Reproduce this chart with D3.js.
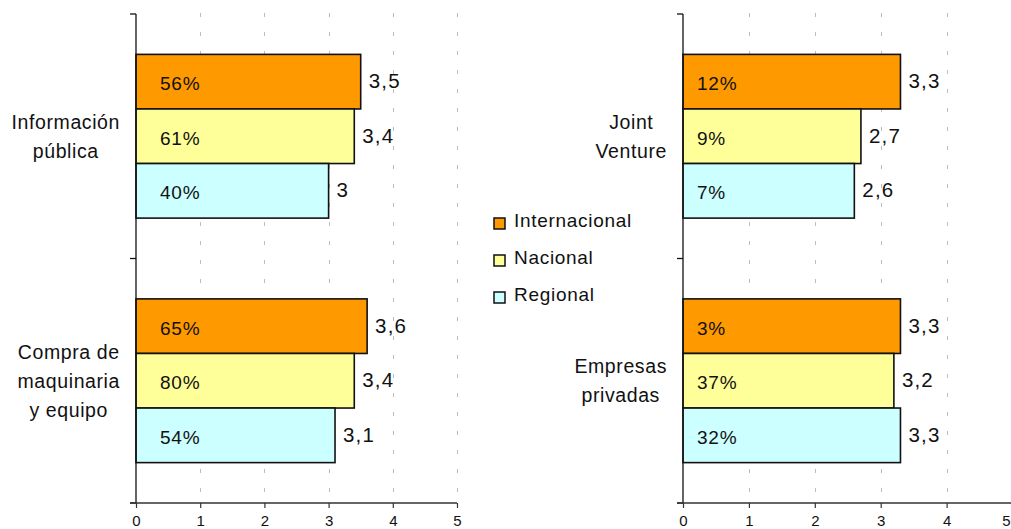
<!DOCTYPE html>
<html>
<head>
<meta charset="utf-8">
<script src="https://cdn.jsdelivr.net/npm/d3@7/dist/d3.min.js"></script>
<style>
  html, body { margin: 0; padding: 0; background: #fff; }
  svg { display: block; font-family: "Liberation Sans", Arial, sans-serif; }
</style>
</head>
<body>
<svg id="chart" width="1011" height="529"></svg>
<script>
// Series (legend order, top to bottom inside each group)
const seriesNames = ["Internacional", "Nacional", "Regional"];
const seriesColors = ["#FF9900", "#FFFF99", "#CCFFFF"];

// Left panel
const leftCategories = ["Información\npública", "Compra de\nmaquinaria\ny equipo"];
const leftInternacional = [3.5, 3.6];
const leftNacional = [3.4, 3.4];
const leftRegional = [3.0, 3.1];
const leftPctInternacional = [56, 65];
const leftPctNacional = [61, 80];
const leftPctRegional = [40, 54];

// Right panel
const rightCategories = ["Joint\nVenture", "Empresas\nprivadas"];
const rightInternacional = [3.3, 3.3];
const rightNacional = [2.7, 3.2];
const rightRegional = [2.6, 3.3];
const rightPctInternacional = [12, 3];
const rightPctNacional = [9, 37];
const rightPctRegional = [7, 32];

// Shared axis
const xTicks = [0, 1, 2, 3, 4, 5];
const xDomain = [0, 5];

const svg = d3.select("#chart");
const svgWidth = 1011;
const plotTop = 14, plotBottom = 503;

const fmtValue = v => String(v).replace(".", ",");

function drawPanel(cfg) {
  const x = d3.scaleLinear().domain(xDomain).range([cfg.x0, cfg.x1]);
  const y = d3.scaleBand().domain(cfg.categories).range([plotTop, plotBottom]).padding(0);
  const inner = d3.scaleBand().domain(seriesNames)
    .range([0, y.bandwidth()]).paddingInner(0).paddingOuter(0.74);

  const g = svg.append("g");

  // dashed vertical gridlines
  g.append("g").selectAll("line")
    .data(xTicks.filter(t => t > 0))
    .join("line")
    .attr("x1", d => Math.round(x(d)) + 0.5)
    .attr("x2", d => Math.round(x(d)) + 0.5)
    .attr("y1", plotTop - 1).attr("y2", plotBottom)
    .attr("stroke", "#bdbdbd").attr("stroke-width", 1)
    .attr("stroke-dasharray", "4,15");

  // bars
  const rows = [];
  cfg.categories.forEach((c, i) => {
    seriesNames.forEach((s, k) => {
      rows.push({ cat: c, series: s, k, value: cfg.values[k][i], pct: cfg.pcts[k][i] });
    });
  });

  const barG = g.append("g");
  barG.selectAll("rect")
    .data(rows)
    .join("rect")
    .attr("x", x(0))
    .attr("y", d => y(d.cat) + inner(d.series))
    .attr("width", d => x(d.value) - x(0))
    .attr("height", inner.bandwidth())
    .attr("fill", d => seriesColors[d.k])
    .attr("stroke", "#111").attr("stroke-width", 1.6);

  // percentage labels inside bars
  barG.selectAll("text.pct")
    .data(rows)
    .join("text")
    .attr("class", "pct")
    .attr("x", x(0) + cfg.pctOffset)
    .attr("y", d => y(d.cat) + inner(d.series) + inner.bandwidth() / 2 + 2)
    .attr("dominant-baseline", "central")
    .attr("font-size", 19)
    .attr("letter-spacing", "0.8px")
    .attr("fill", "#111")
    .text(d => d.pct + "%");

  // value labels at bar ends
  barG.selectAll("text.val")
    .data(rows)
    .join("text")
    .attr("class", "val")
    .attr("x", d => x(d.value) + 8)
    .attr("y", d => y(d.cat) + inner(d.series) + inner.bandwidth() / 2 - 1)
    .attr("dominant-baseline", "central")
    .attr("font-size", 20.5)
    .attr("letter-spacing", "1.2px")
    .attr("fill", "#111")
    .text(d => fmtValue(d.value));

  // vertical category axis with ticks at band edges
  const edges = cfg.categories.map(c => y(c)).concat([plotBottom]);
  g.append("line")
    .attr("x1", x(0)).attr("x2", x(0))
    .attr("y1", plotTop).attr("y2", plotBottom)
    .attr("stroke", "#111").attr("stroke-width", 1.3);
  g.append("g").selectAll("line")
    .data(edges)
    .join("line")
    .attr("x1", x(0) - 6).attr("x2", x(0))
    .attr("y1", d => d).attr("y2", d => d)
    .attr("stroke", "#111").attr("stroke-width", 1.3);

  // horizontal value axis
  const xAxis = d3.axisBottom(x).tickValues(xTicks).tickSize(5).tickSizeOuter(0)
    .tickFormat(d3.format("d"));
  const ax = g.append("g").attr("transform", `translate(0,${plotBottom})`).call(xAxis);
  ax.select(".domain")
    .attr("d", `M${x(0) - 6},0H${cfg.axisEnd}`)
    .attr("stroke", "#333").attr("stroke-width", 1.5);
  ax.selectAll(".tick line").attr("stroke", "#333").attr("stroke-width", 1.2);
  ax.selectAll(".tick text")
    .style("font-size", "15px")
    .style("font-family", "'Liberation Sans', Arial, sans-serif")
    .attr("fill", "#111")
    .attr("dy", null)
    .attr("y", 22.5)
    .each(function (d) {
      // keep a label that would run past the right edge inside the page
      const w = this.getComputedTextLength();
      if (x(d) + w / 2 > svgWidth - 1) {
        d3.select(this).attr("text-anchor", "end").attr("x", svgWidth - 1 - x(d));
      }
    });

  // category labels: centered lines in a block right-aligned to the axis
  cfg.categories.forEach(c => {
    const lines = c.split("\n");
    const lineH = 29;
    const cy = y(c) + y.bandwidth() / 2;
    const t = g.append("text")
      .attr("font-size", 19.5)
      .attr("letter-spacing", "0.6px")
      .attr("fill", "#111")
      .attr("text-anchor", "middle");
    const spans = lines.map((ln, i) => t.append("tspan")
      .attr("y", cy + (i - (lines.length - 1) / 2) * lineH)
      .attr("dominant-baseline", "central")
      .text(ln));
    const maxW = d3.max(spans, s => s.node().getComputedTextLength());
    const cx = x(0) - 16 - maxW / 2;
    spans.forEach(s => s.attr("x", cx));
  });
}

drawPanel({
  x0: 136, x1: 457, axisEnd: 457,
  pctOffset: 24,
  categories: leftCategories,
  values: [leftInternacional, leftNacional, leftRegional],
  pcts: [leftPctInternacional, leftPctNacional, leftPctRegional]
});

drawPanel({
  x0: 683, x1: 1012.5, axisEnd: 1011,
  pctOffset: 14,
  categories: rightCategories,
  values: [rightInternacional, rightNacional, rightRegional],
  pcts: [rightPctInternacional, rightPctNacional, rightPctRegional]
});

// legend
const legend = svg.append("g").attr("transform", "translate(494,0)");
const legendY = d3.scalePoint().domain(seriesNames).range([220, 294]);
legend.selectAll("rect")
  .data(seriesNames)
  .join("rect")
  .attr("x", 0)
  .attr("y", d => legendY(d) - 2)
  .attr("width", 11).attr("height", 11)
  .attr("fill", (d, i) => seriesColors[i])
  .attr("stroke", "#111").attr("stroke-width", 1.5);
legend.selectAll("text")
  .data(seriesNames)
  .join("text")
  .attr("x", 20)
  .attr("y", d => legendY(d))
  .attr("dominant-baseline", "central")
  .attr("font-size", 19)
  .attr("letter-spacing", "0.7px")
  .attr("fill", "#111")
  .text(d => d);
</script>
</body>
</html>
